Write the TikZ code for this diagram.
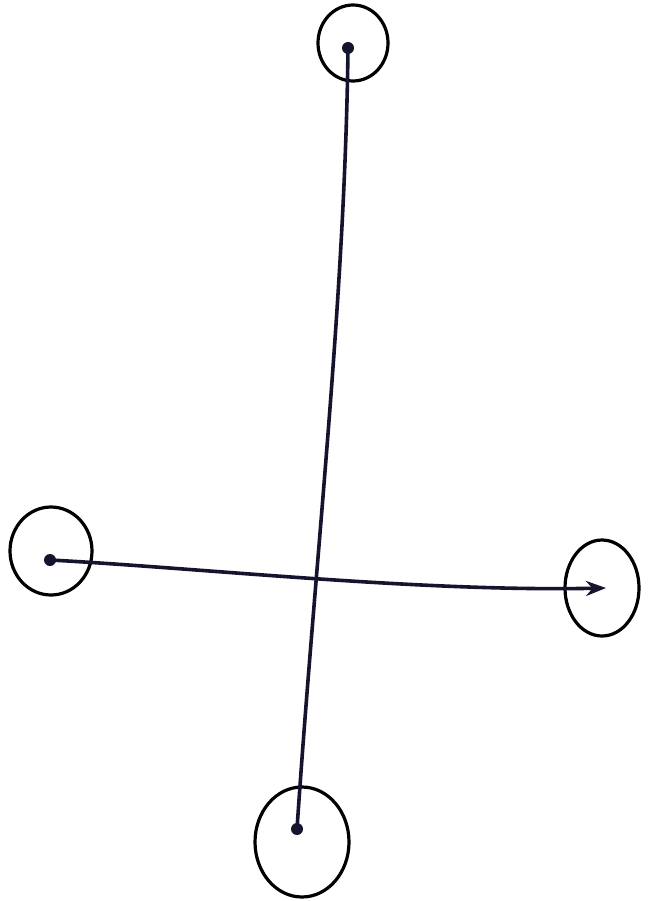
\documentclass[tikz,border=0pt]{standalone}
\usetikzlibrary{shapes.geometric,arrows.meta}
\definecolor{ink}{HTML}{14142E}
\begin{document}
\begin{tikzpicture}[x=1pt,y=-1pt,
  ring/.style={draw=black,line width=3.2pt,ellipse,inner sep=0pt},
  stroke/.style={draw=ink,line width=3.6pt,line cap=round},
  dotmark/.style={circle,fill=ink,inner sep=0pt,minimum size=12pt}]
\fill[white] (0,0) rectangle (655,901);
\useasboundingbox (0,0) rectangle (655,901);
% circles
\node[ring,minimum width=70pt,minimum height=76pt] (topc) at (353,43) {};
\node[ring,minimum width=82pt,minimum height=88pt] (leftc) at (51,551) {};
\node[ring,minimum width=74pt,minimum height=96pt] (rightc) at (602,588) {};
\node[ring,minimum width=94pt,minimum height=110pt] (botc) at (302,842) {};
% dots
\node[dotmark] (topd) at (348,48) {};
\node[dotmark] (leftd) at (50,560) {};
\node[dotmark] (botd) at (297,829) {};
\coordinate (tip) at (606,588);
% lines
\draw[stroke] (topd.center) .. controls (345,300) and (315,560) .. (botd.center);
\draw[stroke,-{Stealth[length=20pt,width=15pt]}] (leftd.center) .. controls (200,568) and (420,592) .. (tip);
\end{tikzpicture}
\end{document}
